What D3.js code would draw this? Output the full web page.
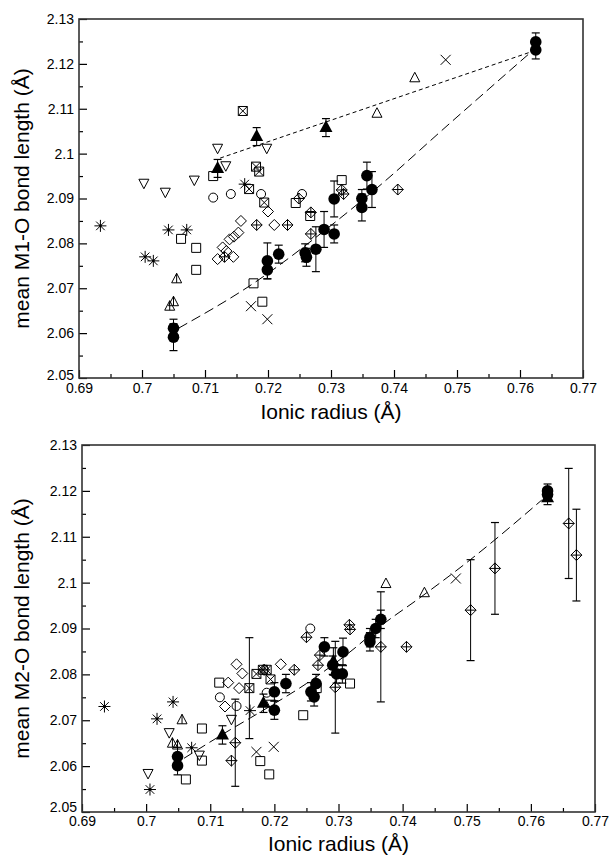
<!DOCTYPE html>
<html>
<head>
<meta charset="UTF-8">
<script src="https://cdn.jsdelivr.net/npm/d3@7"></script>
<style>
  body { margin: 0; background: #fff; }
  text { font-family: "Liberation Sans", Arial, sans-serif; fill: #000; }
</style>
</head>
<body>
<div id="chart"></div>
<script>
// tick values shared by both panels
var xTicks = [0.69, 0.70, 0.71, 0.72, 0.73, 0.74, 0.75, 0.76, 0.77];
var yTicks = [2.05, 2.06, 2.07, 2.08, 2.09, 2.10, 2.11, 2.12, 2.13];

// ---------- top panel: M1-O, points are [radius, length, error] ----------
var m1FilledCircles = [
  [0.7050, 2.0611, 0.002], [0.7050, 2.0591, 0.003], [0.7199, 2.0761, 0.004],
  [0.7199, 2.0741, 0.002], [0.7217, 2.0776, 0.002], [0.7259, 2.0779, 0.002],
  [0.7261, 2.0769, 0.002], [0.7276, 2.0787, 0.005], [0.7289, 2.0831, 0.004],
  [0.7305, 2.0899, 0.004], [0.7305, 2.0821, 0.002], [0.7349, 2.0900, 0.002],
  [0.7349, 2.0880, 0.003], [0.7357, 2.0951, 0.003], [0.7365, 2.0920, 0.004],
  [0.7625, 2.1249, 0.002], [0.7625, 2.1231, 0.002]
];
var m1FilledTriangles = [[0.7120, 2.0967, 0.002], [0.7182, 2.1038, 0.002], [0.7292, 2.1058, 0.002]];
var m1TriUp = [[0.7433, 2.1169], [0.7373, 2.1090]];
var m1TriDown = [[0.7003, 2.0934], [0.7037, 2.0914], [0.7083, 2.0941], [0.7120, 2.1012],
  [0.7133, 2.0973], [0.7198, 2.1012]];
var m1TriHalf = [[0.7055, 2.0721], [0.7050, 2.0670], [0.7044, 2.0660]];
var m1Squares = [[0.7113, 2.0950], [0.7062, 2.0810], [0.7086, 2.0790], [0.7086, 2.0741],
  [0.7177, 2.0711], [0.7191, 2.0670], [0.7244, 2.0890], [0.7267, 2.0861], [0.7317, 2.0941]];
var m1SquaresX = [[0.7160, 2.1095], [0.7181, 2.0971], [0.7186, 2.0960], [0.7170, 2.0921], [0.7194, 2.0891]];
var m1Circles = [[0.7113, 2.0902], [0.7141, 2.0910], [0.7189, 2.0910], [0.7254, 2.0910]];
var m1Diamonds = [[0.7157, 2.0850], [0.7200, 2.0871], [0.7210, 2.0841], [0.7153, 2.0824],
  [0.7146, 2.0815], [0.7139, 2.0809], [0.7128, 2.0791], [0.7145, 2.0770], [0.7120, 2.0765],
  [0.7134, 2.0783]];
var m1DiamondsPlus = [[0.7182, 2.0841], [0.7231, 2.0841], [0.7249, 2.0900], [0.7268, 2.0869],
  [0.7268, 2.0821], [0.7131, 2.0770], [0.7317, 2.0919], [0.7320, 2.0910], [0.7406, 2.0920]];
var m1Crosses = [[0.7173, 2.0660], [0.7199, 2.0631], [0.7482, 2.1209]];
var m1Stars = [[0.6934, 2.0839], [0.7042, 2.0830], [0.7071, 2.0830], [0.7005, 2.0770],
  [0.7018, 2.0761], [0.7163, 2.0932]];
var m1FitShort = [[0.7124, 2.0990], [0.7618, 2.1227]];
var m1FitLong = [[0.7058, 2.0611], [0.7177, 2.0711], [0.7301, 2.0841], [0.7370, 2.0920],
  [0.7489, 2.1068], [0.7618, 2.1227]];

// ---------- bottom panel: M2-O ----------
var m2FilledCircles = [
  [0.7049, 2.0621, 0.002], [0.7049, 2.0601, 0.002], [0.7200, 2.0762, 0.002],
  [0.7200, 2.0722, 0.002], [0.7218, 2.0780, 0.002], [0.7257, 2.0762, 0.002],
  [0.7262, 2.0751, 0.002], [0.7265, 2.0780, 0.002], [0.7278, 2.0860, 0.002],
  [0.7291, 2.0820, 0.002], [0.7297, 2.0801, 0.002], [0.7307, 2.0849, 0.003],
  [0.7306, 2.0801, 0.002], [0.7349, 2.0880, 0.002], [0.7349, 2.0871, 0.002],
  [0.7358, 2.0900, 0.002], [0.7366, 2.0920, 0.002], [0.7626, 2.1200, 0.0015],
  [0.7626, 2.1192, 0.0015]
];
var m2FilledTriangles = [[0.7119, 2.0668, 0.002], [0.7183, 2.0737, 0.002], [0.7292, 2.0828, 0.003],
  [0.7626, 2.1185, 0.0015]];
var m2TriUp = [[0.7374, 2.0998], [0.7434, 2.0978]];
var m2TriDown = [[0.7003, 2.0584], [0.7036, 2.0673], [0.7083, 2.0624], [0.7133, 2.0702], [0.7195, 2.0735]];
var m2TriHalf = [[0.7056, 2.0701], [0.7041, 2.0650], [0.7049, 2.0646]];
var m2Squares = [[0.7087, 2.0682], [0.7087, 2.0612], [0.7062, 2.0571], [0.7114, 2.0782],
  [0.7178, 2.0611], [0.7192, 2.0582], [0.7245, 2.0711], [0.7266, 2.0770], [0.7318, 2.0780]];
var m2SquaresX = [[0.7161, 2.0770, 0.011], [0.7172, 2.0801], [0.7182, 2.0810], [0.7188, 2.0810], [0.7194, 2.0789]];
var m2Circles = [[0.7115, 2.0750], [0.7141, 2.0731], [0.7256, 2.0900], [0.7188, 2.0760]];
var m2Diamonds = [[0.7141, 2.0822], [0.7150, 2.0802], [0.7128, 2.0782], [0.7145, 2.0770],
  [0.7123, 2.0730], [0.7210, 2.0822]];
var m2DiamondsPlus = [[0.7133, 2.0612], [0.7139, 2.0651, 0.0095], [0.7184, 2.0810], [0.7231, 2.0810],
  [0.7250, 2.0881], [0.7271, 2.0842], [0.7268, 2.0820], [0.7295, 2.0772, 0.010],
  [0.7317, 2.0908], [0.7318, 2.0898], [0.7366, 2.0860, 0.012], [0.7406, 2.0860],
  [0.7506, 2.0940, 0.011], [0.7544, 2.1031, 0.010], [0.7659, 2.1129, 0.012], [0.7671, 2.1060, 0.010]];
var m2Crosses = [[0.7172, 2.0631], [0.7199, 2.0642], [0.7483, 2.1009]];
var m2Stars = [[0.6935, 2.0730], [0.7042, 2.0740], [0.7017, 2.0703], [0.7071, 2.0640],
  [0.7006, 2.0549], [0.7162, 2.0721]];
var m2Fit = [[0.7059, 2.0617], [0.7126, 2.0675], [0.7183, 2.0722], [0.7250, 2.0780],
  [0.7318, 2.0849], [0.7374, 2.0914], [0.7422, 2.0962], [0.7502, 2.1046], [0.7617, 2.1180]];

var W = 614, H = 858;
var svg = d3.select("#chart").append("svg").attr("width", W).attr("height", H);

// marker shapes, drawn around (0,0)
function drawMarker(g, type) {
  var p = function(d) { return g.append("path").attr("d", d).attr("fill", "none").attr("stroke", "#000").attr("stroke-width", 1); };
  var diamond = "M0,-5.5L5.5,0L0,5.5L-5.5,0Z";
  switch (type) {
    case "circleFilled": g.append("circle").attr("r", 5.8).attr("fill", "#000"); break;
    case "triFilled": g.append("path").attr("d", "M0,-7.5L6.5,4.5L-6.5,4.5Z").attr("fill", "#000"); break;
    case "triUp": p("M0,-5.5L5,4L-5,4Z"); break;
    case "triDown": p("M0,5.5L5,-4L-5,-4Z"); break;
    case "triHalf": p("M0,-5.5L5,4L-5,4Z M0,-5.5L0,4"); break;
    case "square": p("M-4.5,-4.5H4.5V4.5H-4.5Z"); break;
    case "squareX": p("M-4.5,-4.5H4.5V4.5H-4.5Z M-4.5,-4.5L4.5,4.5 M4.5,-4.5L-4.5,4.5"); break;
    case "circle": g.append("circle").attr("r", 4.5).attr("fill", "none").attr("stroke", "#000"); break;
    case "diamond": p(diamond); break;
    case "diamondPlus": p(diamond + " M0,-5.5V5.5 M-5.5,0H5.5"); break;
    case "cross": p("M-5,-5L5,5 M5,-5L-5,5"); break;
    case "star":
      p("M0,-6V6 M-6,0H6 M-4.3,-4.3L4.3,4.3 M4.3,-4.3L-4.3,4.3");
      g.append("circle").attr("r", 1.4).attr("fill", "#000");
      break;
  }
}

function panel(cfg) {
  var x = d3.scaleLinear().domain([0.69, 0.77]).range([cfg.left, cfg.right]);
  var y = d3.scaleLinear().domain([2.05, 2.13]).range([cfg.bottom, cfg.top]);
  var fmt = function(v) { return String(+v.toFixed(2)); };
  var g = svg.append("g");

  // minor ticks
  var xMinor = xTicks.slice(0, -1).map(function(v) { return v + 0.005; });
  var yMinor = yTicks.slice(0, -1).map(function(v) { return v + 0.005; });

  var gx = g.append("g").attr("transform", "translate(0," + cfg.bottom + ")")
    .call(d3.axisBottom(x).tickValues(xTicks).tickSize(-8).tickPadding(5).tickFormat(fmt));
  g.append("g").attr("transform", "translate(0," + cfg.bottom + ")")
    .call(d3.axisBottom(x).tickValues(xMinor).tickSize(-4).tickFormat(""));
  var gy = g.append("g").attr("transform", "translate(" + cfg.left + ",0)")
    .call(d3.axisLeft(y).tickValues(yTicks).tickSize(-8).tickPadding(5).tickFormat(fmt));
  g.append("g").attr("transform", "translate(" + cfg.left + ",0)")
    .call(d3.axisLeft(y).tickValues(yMinor).tickSize(-4).tickFormat(""));
  g.selectAll(".domain").remove();
  g.selectAll(".tick line").attr("stroke", "#000").attr("stroke-width", 1.2);
  g.selectAll(".tick text").style("font-size", "14px");
  gy.selectAll(".tick text").attr("dy", function(d) { return d === 2.05 ? cfg.yFirstDy : "0.32em"; });
  gx.selectAll(".tick text").attr("dy", cfg.xLabelDy);

  // frame
  g.append("rect").attr("x", cfg.left).attr("y", cfg.top)
    .attr("width", cfg.right - cfg.left).attr("height", cfg.bottom - cfg.top)
    .attr("fill", "none").attr("stroke", "#333").attr("stroke-width", 1.6);

  // axis titles
  g.append("text").attr("x", (cfg.left + cfg.right) / 2).attr("y", cfg.xTitleY)
    .attr("text-anchor", "middle").style("font-size", "21px").text("Ionic radius (Å)");
  g.append("text").attr("transform", "translate(29," + ((cfg.top + cfg.bottom) / 2) + ") rotate(-90)")
    .attr("text-anchor", "middle").style("font-size", "21px").text(cfg.yTitle);

  // fit lines
  var line = d3.line().x(function(d) { return x(d[0]); }).y(function(d) { return y(d[1]); })
    .curve(d3.curveMonotoneX);
  cfg.fits.forEach(function(f) {
    g.append("path").datum(f.data).attr("d", line).attr("fill", "none")
      .attr("stroke", "#000").attr("stroke-width", 1).attr("stroke-dasharray", f.dash);
  });

  // markers and error bars
  cfg.series.forEach(function(s) {
    var withErr = s.data.filter(function(d) { return d[2]; });
    var eb = g.append("g").selectAll("g").data(withErr).enter().append("g");
    eb.append("line").attr("x1", function(d) { return x(d[0]); }).attr("x2", function(d) { return x(d[0]); })
      .attr("y1", function(d) { return y(d[1] - d[2]); }).attr("y2", function(d) { return y(d[1] + d[2]); })
      .attr("stroke", "#000").attr("stroke-width", 1);
    [-1, 1].forEach(function(sg) {
      eb.append("line").attr("x1", function(d) { return x(d[0]) - 4; }).attr("x2", function(d) { return x(d[0]) + 4; })
        .attr("y1", function(d) { return y(d[1] + sg * d[2]); }).attr("y2", function(d) { return y(d[1] + sg * d[2]); })
        .attr("stroke", "#000").attr("stroke-width", 1.2);
    });
    g.append("g").selectAll("g").data(s.data).enter().append("g")
      .attr("transform", function(d) { return "translate(" + x(d[0]) + "," + y(d[1]) + ")"; })
      .each(function() { drawMarker(d3.select(this), s.type); });
  });
}

panel({
  left: 79, right: 583, top: 19, bottom: 378, xTitleY: 419, yFirstDy: "0.1em", xLabelDy: "0.71em",
  yTitle: "mean M1-O bond length (Å)",
  fits: [{ data: m1FitShort, dash: "4,3" }, { data: m1FitLong, dash: "10,5" }],
  series: [
    { type: "square", data: m1Squares }, { type: "squareX", data: m1SquaresX },
    { type: "circle", data: m1Circles }, { type: "diamond", data: m1Diamonds },
    { type: "diamondPlus", data: m1DiamondsPlus }, { type: "triUp", data: m1TriUp },
    { type: "triDown", data: m1TriDown }, { type: "triHalf", data: m1TriHalf },
    { type: "cross", data: m1Crosses }, { type: "star", data: m1Stars },
    { type: "circleFilled", data: m1FilledCircles }, { type: "triFilled", data: m1FilledTriangles }
  ]
});

panel({
  left: 82, right: 595, top: 445, bottom: 812, xTitleY: 851, yFirstDy: "-0.05em", xLabelDy: "0.65em",
  yTitle: "mean M2-O bond length (Å)",
  fits: [{ data: m2Fit, dash: "10,5" }],
  series: [
    { type: "square", data: m2Squares }, { type: "squareX", data: m2SquaresX },
    { type: "circle", data: m2Circles }, { type: "diamond", data: m2Diamonds },
    { type: "diamondPlus", data: m2DiamondsPlus }, { type: "triUp", data: m2TriUp },
    { type: "triDown", data: m2TriDown }, { type: "triHalf", data: m2TriHalf },
    { type: "cross", data: m2Crosses }, { type: "star", data: m2Stars },
    { type: "circleFilled", data: m2FilledCircles }, { type: "triFilled", data: m2FilledTriangles }
  ]
});
</script>
</body>
</html>
